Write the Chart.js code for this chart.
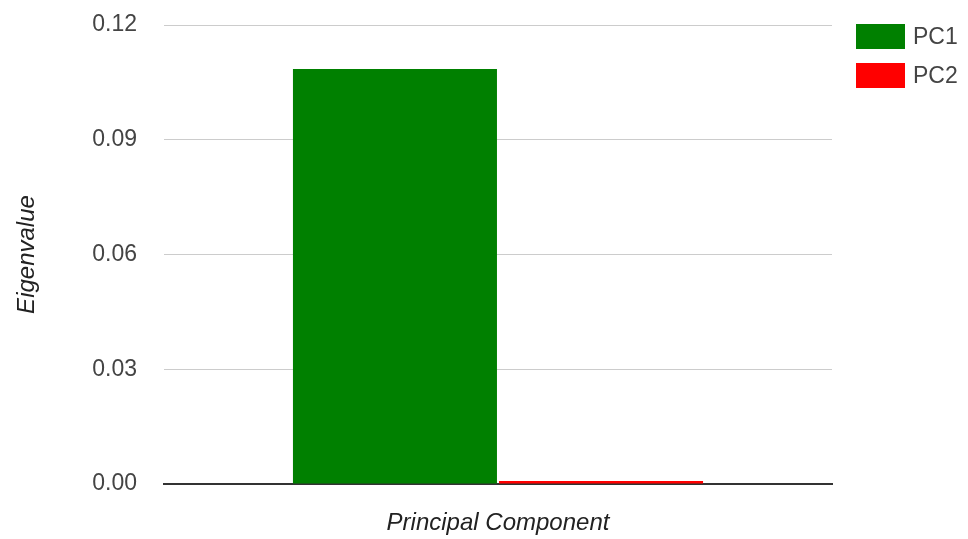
<!DOCTYPE html>
<html>
<head>
<meta charset="utf-8">
<script src="https://cdn.jsdelivr.net/npm/chart.js@4.4.0/dist/chart.umd.min.js"></script>
<style>
  html, body { margin: 0; padding: 0; background: #fff; }
  #wrap { position: relative; width: 968px; height: 539px; }
  #legend { position: absolute; left: 856px; top: 24px; font-family: "Liberation Sans", Arial, sans-serif; font-size: 23px; color: #444; }
  .item { display: flex; align-items: center; height: 25px; margin-bottom: 14px; }
  .box { width: 49px; height: 25px; margin-right: 8px; }
</style>
</head>
<body>
<div id="wrap">
  <canvas id="plot" width="968" height="539"></canvas>
  <div id="legend"></div>
</div>
<script>
// datos
let categorias = ['']
let series = ['PC1', 'PC2']
let valoresPC1 = [0.1085]
let valoresPC2 = [0.0008]
let colores = ['#008000', '#ff0000']
let ticksY = [0, 0.03, 0.06, 0.09, 0.12]

let fuente = '"Liberation Sans", Arial, sans-serif'

let config = {
  type: 'bar',
  data: {
    labels: categorias,
    datasets: [
      { label: series[0], data: valoresPC1, backgroundColor: colores[0] },
      { label: series[1], data: valoresPC2, backgroundColor: colores[1] }
    ]
  },
  options: {
    responsive: false,
    animation: false,
    categoryPercentage: 0.617,
    barPercentage: 0.99,
    layout: { padding: { top: 25, right: 136, left: 0, bottom: 0 } },
    plugins: { legend: { display: false }, tooltip: { enabled: false } },
    scales: {
      x: {
        grid: { display: false, drawTicks: false },
        border: { color: '#333', width: 2 },
        ticks: { display: false },
        title: {
          display: true, text: 'Principal Component', color: '#222',
          font: { family: fuente, size: 24, style: 'italic' }, padding: { top: 0, bottom: 1 }
        },
        afterFit: (scale) => { scale.height = 55 }
      },
      y: {
        min: 0, max: 0.12,
        afterBuildTicks: (scale) => { scale.ticks = ticksY.map(v => ({ value: v })) },
        grid: { color: '#cccccc', drawTicks: false },
        border: { display: false },
        ticks: {
          color: '#444', padding: 27,
          font: { family: fuente, size: 23 },
          callback: (v) => v.toFixed(2)
        },
        title: {
          display: true, text: 'Eigenvalue', color: '#222',
          font: { family: fuente, size: 24, style: 'italic' }, padding: { top: 13, bottom: 0 }
        },
        afterFit: (scale) => {
          // el padding de los ticks no debe empujar el area hacia abajo
          scale.width = 164
          scale.paddingTop = 0
          scale.paddingBottom = 0
        }
      }
    }
  }
}

let chart = new Chart(document.getElementById('plot'), config)

// leyenda en HTML
let leyenda = document.getElementById('legend')
series.forEach((nombre, i) => {
  leyenda.innerHTML += `<div class="item"><div class="box" style="background:${colores[i]}"></div>${nombre}</div>`
})
</script>
</body>
</html>
